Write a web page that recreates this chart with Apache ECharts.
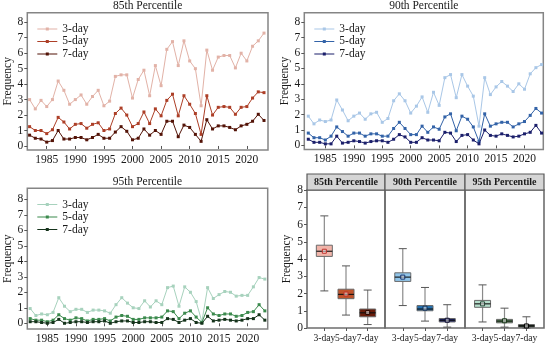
<!DOCTYPE html>
<html><head><meta charset="utf-8">
<script src="https://cdn.jsdelivr.net/npm/echarts@6/dist/echarts.min.js"></script>
<style>html,body{margin:0;padding:0;background:#fff}#c{width:550px;height:347px}</style>
</head><body><div id="c"></div>
<script>
const years = [1982,1983,1984,1985,1986,1987,1988,1989,1990,1991,1992,1993,1994,1995,1996,1997,1998,1999,2000,2001,2002,2003,2004,2005,2006,2007,2008,2009,2010,2011,2012,2013,2014,2015,2016,2017,2018,2019,2020,2021,2022,2023];

const p85_3day = [3.0,2.4,2.95,2.55,3.0,4.2,3.6,2.7,3.0,3.3,2.7,3.2,3.6,2.6,2.9,4.5,4.6,4.6,3.1,4.3,4.9,3.25,5.2,3.9,6.25,6.75,5.2,6.8,5.5,5.0,2.6,6.2,4.9,5.75,5.85,5.85,5.05,6.0,5.5,6.45,6.8,7.3];
const p85_5day = [1.25,1.0,1.0,0.8,1.05,1.85,1.55,1.1,1.4,1.45,1.15,1.4,1.5,1.0,1.1,2.1,2.45,2.0,1.25,1.45,2.2,1.45,2.4,1.95,2.95,3.35,1.95,3.25,2.7,2.1,0.75,3.25,2.0,2.5,2.55,2.5,2.05,2.5,2.55,3.1,3.5,3.45];
const p85_7day = [0.7,0.5,0.45,0.25,0.35,1.0,0.45,0.45,0.55,0.55,0.4,0.55,0.75,0.5,0.5,0.9,1.25,0.95,0.4,0.5,1.1,0.7,1.0,0.75,1.6,1.6,0.6,1.35,1.2,0.75,0.3,1.7,1.1,1.3,1.3,1.2,1.05,1.3,1.4,1.6,2.05,1.65];

const p90_3day = [1.9,1.4,1.65,1.55,1.65,2.95,2.3,1.6,1.9,2.1,1.7,2.05,2.15,1.5,1.75,2.9,3.35,2.9,2.1,2.55,3.15,2.15,3.45,2.6,4.4,4.6,3.1,4.6,3.85,3.2,1.25,4.4,3.3,3.8,4.15,3.85,3.5,4.0,3.65,4.65,5.05,5.25];
const p90_5day = [0.8,0.5,0.5,0.35,0.6,1.2,0.9,0.6,0.8,0.8,0.6,0.75,0.75,0.6,0.6,1.1,1.5,1.1,0.7,0.7,1.25,0.85,1.2,1.05,1.85,2.05,0.95,1.9,1.7,1.2,0.25,2.05,1.25,1.4,1.5,1.5,1.2,1.4,1.55,1.95,2.4,2.1];
const p90_7day = [0.4,0.2,0.2,0.1,0.1,0.6,0.15,0.2,0.3,0.25,0.15,0.25,0.3,0.3,0.2,0.4,0.7,0.55,0.2,0.2,0.5,0.35,0.35,0.3,0.85,0.8,0.25,0.65,0.7,0.35,0.1,1.0,0.65,0.6,0.75,0.65,0.55,0.6,0.75,0.85,1.3,0.8];

const p95_3day = [0.95,0.5,0.6,0.55,0.7,1.65,1.1,0.75,0.9,0.9,0.7,0.85,0.85,0.8,0.65,1.2,1.65,1.3,1.0,0.95,1.45,1.05,1.45,1.2,2.3,2.4,1.1,2.35,2.0,1.4,0.1,2.3,1.6,1.85,2.05,2.0,1.75,1.8,1.8,2.35,2.95,2.85];
const p95_5day = [0.3,0.2,0.2,0.1,0.2,0.55,0.3,0.2,0.35,0.3,0.15,0.25,0.25,0.3,0.15,0.4,0.5,0.45,0.25,0.25,0.35,0.35,0.35,0.4,0.8,0.75,0.3,0.65,0.8,0.4,0.05,1.0,0.6,0.5,0.6,0.6,0.45,0.5,0.7,0.75,1.2,0.8];
const p95_7day = [0.1,0.1,0.05,0.0,0.05,0.25,0.0,0.05,0.1,0.1,0.05,0.1,0.1,0.15,0.0,0.1,0.15,0.15,0.05,0.05,0.1,0.1,0.05,0.05,0.3,0.25,0.05,0.2,0.3,0.05,0.0,0.45,0.15,0.2,0.25,0.2,0.15,0.2,0.3,0.3,0.55,0.2];

const durations = ['3-day','5-day','7-day'];
const panelTitles = ['85th Percentile','90th Percentile','95th Percentile'];
const boxPositions = [1,2,3];
// [min, q1, median, q3, max, mean]
const box85 = [[2.15,4.15,4.45,4.8,6.5,4.45],[0.75,1.7,1.95,2.25,3.6,1.97],[0.2,0.65,0.88,1.1,2.2,0.9]];
const box90 = [[1.3,2.7,2.95,3.2,4.6,2.95],[0.4,1.0,1.1,1.3,2.35,1.15],[0.05,0.35,0.45,0.55,1.35,0.45]];
const box95 = [[0.35,1.2,1.4,1.6,2.5,1.4],[0.05,0.3,0.4,0.5,1.15,0.42],[0.0,0.05,0.12,0.2,0.65,0.12]];
const yTicks = [0,1,2,3,4,5,6,7,8];
const xTicks = [1985,1990,1995,2000,2005,2010,2015,2020];

const FONT = 'Liberation Serif';
const lineColors = [
  ['#e2b2a7','#ad3f27','#531307'],
  ['#a9c7e7','#3363a8','#1b1f6b'],
  ['#a7d2bd','#3b8a4d','#15331b']
];
const boxFill = [
  ['#f1b5aa','#c0532b','#6a1c0a'],
  ['#90c5ea','#2370b0','#1a206e'],
  ['#b6dfcc','#5f905f','#1d2f1d']
];
const meanStroke = [
  ['#c0302a','#c0302a','#2a0800'],
  ['#15306a','#10305a','#0a0a30'],
  ['#2a4a3a','#1a3a1a','#000000']
];
const lineSeriesData = [
  [p85_3day,p85_5day,p85_7day],
  [p90_3day,p90_5day,p90_7day],
  [p95_3day,p95_5day,p95_7day]
];
const boxData = [box85, box90, box95];

const lineGrids = [
  {left:27.3, top:12.7, width:240.7, height:137.3},
  {left:304.3, top:12.7, width:239, height:136.7},
  {left:27.3, top:188.3, width:240.4, height:140.7}
];
const lineX = [[1981.6,2023.7],[1981.3,2023.3],[1981.5,2023.5]];
const lineY = [[-0.26,8.62],[-0.26,8.62],[-0.37,8.71]];
const boxGrids = [
  {left:307, top:190, width:78, height:138},
  {left:385, top:190, width:80, height:138},
  {left:465, top:190, width:79, height:138}
];
const legendIcon = 'path://M0,1 L20,1 L20,2 L0,2 Z M8.5,0 L11.5,0 L11.5,3 L8.5,3 Z';

const grid=[], xAxis=[], yAxis=[], series=[], legend=[], graphic=[];
const txt = {fontFamily:FONT, color:'#1a1a1a'};

lineGrids.forEach((g,gi)=>{
  grid.push(Object.assign({show:true, borderColor:'#858585', borderWidth:1.5, backgroundColor:'transparent'}, g));
  xAxis.push({type:'value', gridIndex:gi, min:lineX[gi][0], max:lineX[gi][1],
    axisLine:{show:false}, splitLine:{show:false},
    axisTick:{show:true, customValues:xTicks, length:3, lineStyle:{color:'#555'}},
    axisLabel:{show:true, customValues:xTicks, showMinLabel:true, showMaxLabel:true, fontSize:11.5, margin:4, formatter:v=>String(Math.round(v)), ...txt}});
  yAxis.push({type:'value', gridIndex:gi, min:lineY[gi][0], max:lineY[gi][1],
    name:'Frequency', nameLocation:'middle', nameGap:13, nameRotate:90,
    nameTextStyle:{fontSize:11.5, ...txt},
    axisLine:{show:false}, splitLine:{show:false},
    axisTick:{show:true, customValues:yTicks, length:3, lineStyle:{color:'#555'}},
    axisLabel:{show:true, customValues:yTicks, showMinLabel:true, showMaxLabel:true, fontSize:11.5, margin:4, ...txt}});
  const names=[];
  durations.forEach((d,di)=>{
    const nm = panelTitles[gi]+'|'+d;
    names.push(nm);
    series.push({type:'line', name:nm, xAxisIndex:gi, yAxisIndex:gi,
      data: years.map((y,i)=>[y, lineSeriesData[gi][di][i]]),
      symbol:'rect', symbolSize:3, showSymbol:true,
      lineStyle:{width:1, color:lineColors[gi][di]},
      itemStyle:{color:lineColors[gi][di]},
      z: 3+di, animation:false, silent:true});
  });
  legend.push({data:names, orient:'vertical', left:g.left+5, top:g.top+5,
    icon:legendIcon, itemWidth:20, itemHeight:3, itemGap:0,
    formatter: n=>n.split('|')[1],
    textStyle:{fontSize:11.5, lineHeight:12.5, fontFamily:FONT, color:'#1a1a1a'},
    selectedMode:false});
  graphic.push({type:'text', x:g.left+g.width/2, y:g.top-6.5,
    style:{text:panelTitles[gi], align:'center', verticalAlign:'middle', fontSize:11.5, fontFamily:FONT, fill:'#1a1a1a'}});
});

boxGrids.forEach((g,bi)=>{
  const gi = 3+bi;
  grid.push(Object.assign({show:true, borderColor:'#6e6e6e', borderWidth:1.6, backgroundColor:'transparent'}, g));
  xAxis.push({type:'value', gridIndex:gi, min:0.2, max:3.8,
    axisLine:{show:false}, splitLine:{show:false},
    axisTick:{show:true, customValues:boxPositions, length:3, lineStyle:{color:'#555'}},
    axisLabel:{show:true, customValues:boxPositions, interval:0, showMinLabel:true, showMaxLabel:true, hideOverlap:false, fontSize:9.6, margin:5, formatter:v=>durations[Math.round(v)-1], ...txt}});
  yAxis.push({type:'value', gridIndex:gi, min:0, max:8, interval:1,
    name: bi===0 ? 'Frequency' : '', nameLocation:'middle', nameGap:14, nameRotate:90,
    nameTextStyle:{fontSize:11.5, ...txt},
    axisLine:{show:false}, splitLine:{show:false},
    axisTick:{show:bi===0, length:3, lineStyle:{color:'#555'}},
    axisLabel:{show:bi===0, showMinLabel:true, showMaxLabel:true, fontSize:11.5, margin:4, ...txt}});
  series.push({type:'custom', xAxisIndex:gi, yAxisIndex:gi, animation:false, silent:true,
    encode:{x:0, y:[1,2,3,4,5]},
    data: boxPositions.map((p,i)=>[p].concat(boxData[bi][i])),
    renderItem:(params, api)=>{
      const x=api.value(0);
      const pLo=api.coord([x,api.value(1)]), pQ1=api.coord([x,api.value(2)]),
            pMed=api.coord([x,api.value(3)]), pQ3=api.coord([x,api.value(4)]),
            pHi=api.coord([x,api.value(5)]), pMean=api.coord([x,api.value(6)]);
      const hw=8, cw=4, cx=pMed[0];
      const di=params.dataIndex;
      return {type:'group', children:[
        {type:'line', shape:{x1:cx,y1:pLo[1],x2:cx,y2:pHi[1]}, style:{stroke:'#8a8a8a', lineWidth:1.2}},
        {type:'line', shape:{x1:cx-cw,y1:pLo[1],x2:cx+cw,y2:pLo[1]}, style:{stroke:'#555', lineWidth:1}},
        {type:'line', shape:{x1:cx-cw,y1:pHi[1],x2:cx+cw,y2:pHi[1]}, style:{stroke:'#555', lineWidth:1}},
        {type:'rect', shape:{x:cx-hw,y:pQ3[1],width:2*hw,height:pQ1[1]-pQ3[1]}, style:{fill:boxFill[bi][di], stroke:'#6a6a6a', lineWidth:1}},
        {type:'line', shape:{x1:cx-hw,y1:pMed[1],x2:cx+hw,y2:pMed[1]}, style:{stroke:'#111', lineWidth:1.1}},
        {type:'rect', shape:{x:cx-2,y:pMean[1]-2,width:4,height:4}, style:{fill:'rgba(255,255,255,0.5)', stroke:meanStroke[bi][di], lineWidth:1}}
      ]};
    }});
  graphic.push({type:'rect', shape:{x:g.left, y:174, width:g.width, height:16},
    style:{fill:'#d5d5d5', stroke:'#5a5a5a', lineWidth:1.2}});
  graphic.push({type:'text', x:g.left+g.width/2, y:182,
    style:{text:panelTitles[bi], align:'center', verticalAlign:'middle', fontSize:10, fontWeight:'bold', fontFamily:FONT, fill:'#1a1a1a'}});
});

const chart = echarts.init(document.getElementById('c'), null, {renderer:'canvas'});
chart.setOption({animation:false, backgroundColor:'#fff', grid, xAxis, yAxis, series, legend, graphic});
</script></body></html>
